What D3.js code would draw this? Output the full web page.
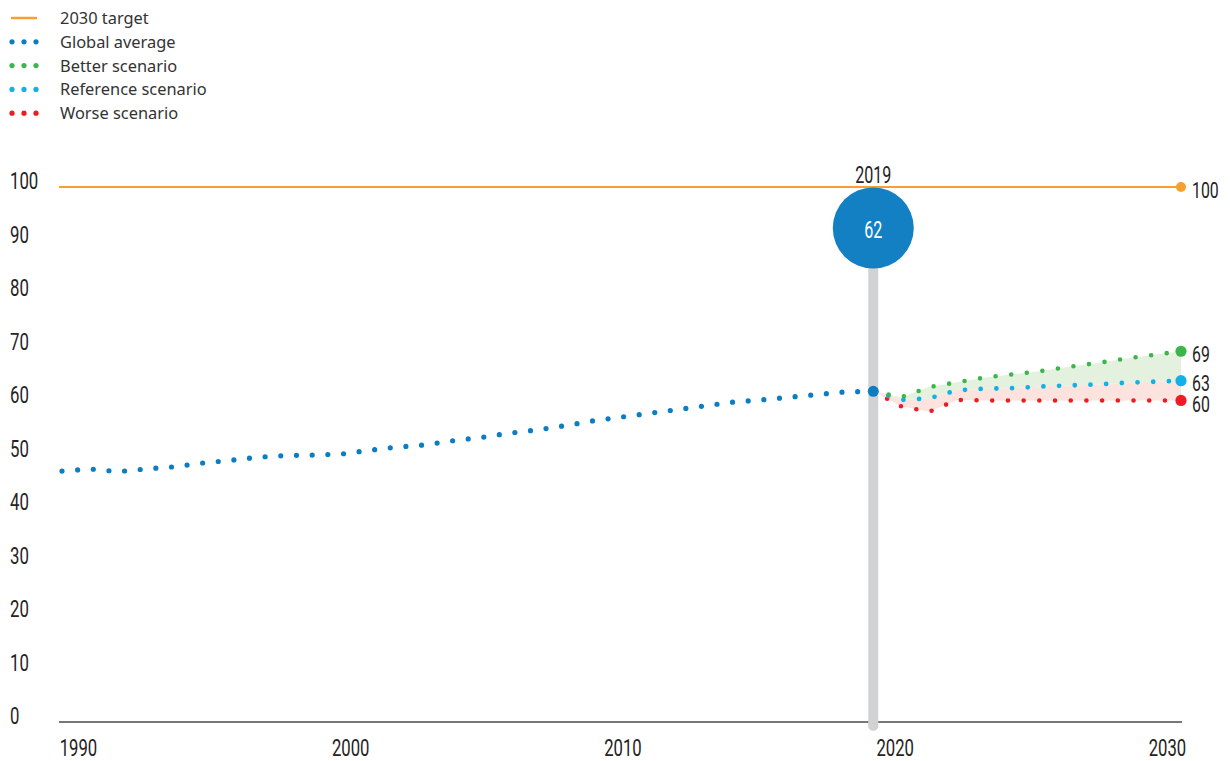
<!DOCTYPE html>
<html>
<head>
<meta charset="utf-8">
<script src="https://cdn.jsdelivr.net/npm/d3@7"></script>
<style>
  html, body { margin: 0; padding: 0; background: #fff; }
  svg { display: block; }
  .cond { font-family: Roboto, "Noto Sans", sans-serif; fill: #262324; }
  .leg { font-family: "Noto Sans", "Open Sans", sans-serif; font-size: 16.4px; fill: #333; }
</style>
</head>
<body>
<svg id="chart" width="1230" height="761"></svg>
<script>
const W = 1230, H = 761;

// global average, 1990-2019
const histYears = d3.range(1990, 2020);
const histValues = [46.9, 47.3, 46.8, 47.3, 47.7, 48.4, 48.9, 49.5, 49.8, 49.9,
                    50.1, 50.8, 51.4, 51.8, 52.6, 53.2, 54.0, 54.6, 55.4, 56.3,
                    57.0, 57.7, 58.4, 59.1, 59.8, 60.2, 60.7, 61.2, 61.7, 61.8];

// scenarios, 2019-2030
const scenYears = d3.range(2019, 2031);
const betterValues    = [61.8, 60.7, 62.6, 63.5, 64.4, 65.0, 65.6, 66.4, 67.1, 67.9, 68.6, 69.3];
const referenceValues = [61.8, 60.2, 60.5, 62.0, 62.3, 62.4, 62.7, 62.9, 63.1, 63.4, 63.6, 63.8];
const worseValues     = [61.8, 59.0, 58.0, 60.2, 60.1, 60.1, 60.1, 60.1, 60.1, 60.1, 60.1, 60.1];

const targetValue = 100;
const endLabels = ["69", "63", "60"];
const highlightYear = 2019, highlightLabel = "62";

const yTicks = [0, 10, 20, 30, 40, 50, 60, 70, 80, 90, 100];
const xTicks = [1990, 2000, 2010, 2020, 2030];

const legendItems = [
  { label: "2030 target", color: "#f6a02d", kind: "line" },
  { label: "Global average", color: "#0b7dc3", kind: "dots" },
  { label: "Better scenario", color: "#3cb54a", kind: "dots" },
  { label: "Reference scenario", color: "#12b0e6", kind: "dots" },
  { label: "Worse scenario", color: "#ec1c24", kind: "dots" }
];

const C = {
  orange: "#f6a02d", blue: "#0b7dc3", bubble: "#1380c3",
  green: "#3cb54a", cyan: "#12b0e6", red: "#ec1c24",
  bar: "#d1d2d4", greenFill: "#e4f1de", redFill: "#fce3de"
};

const svg = d3.select("#chart");

const x = d3.scaleLinear().domain([1990, 2030]).range([62, 1181]);
const y = d3.scaleLinear().domain([0, 100]).range([722, 187]);
// tick labels are spread edge to edge under the axis
const xLab = d3.scaleLinear().domain([1990, 2030]).range([78, 1167]);

// no condensed face installed, so squeeze the glyphs
function condense(sel, f) {
  sel.each(function() {
    const w = this.getComputedTextLength();
    d3.select(this).attr("textLength", (w * f).toFixed(1)).attr("lengthAdjust", "spacingAndGlyphs");
  });
}

// legend
const leg = svg.append("g").attr("transform", "translate(0,18)");
legendItems.forEach((d, i) => {
  const g = leg.append("g").attr("transform", `translate(0,${i * 23.8})`);
  if (d.kind === "line") {
    g.append("line").attr("x1", 11).attr("x2", 37).attr("y1", 0).attr("y2", 0)
      .attr("stroke", d.color).attr("stroke-width", 2.5);
  } else {
    [12, 24, 36].forEach(cx => g.append("circle").attr("cx", cx).attr("cy", 0).attr("r", 2.6).attr("fill", d.color));
  }
  g.append("text").attr("class", "leg").attr("x", 60).attr("y", 0).attr("dy", "0.36em").text(d.label);
});

// y labels
const yAxis = svg.append("g").attr("transform", "translate(10,0)")
  .call(d3.axisLeft(y).tickValues(yTicks).tickSize(0).tickFormat(d3.format("d")));
yAxis.select(".domain").remove();
yAxis.selectAll("text")
  .attr("class", "cond").attr("x", 0).attr("dy", "0.36em").attr("y", -7)
  .attr("text-anchor", "start").style("font-size", "24px")
  .call(condense, 0.7);

// baseline
svg.append("line").attr("x1", 59).attr("x2", 1182).attr("y1", y(0)).attr("y2", y(0))
  .attr("stroke", "#4a4a4a").attr("stroke-width", 1.5);

// x labels
const xAxis = svg.append("g").attr("transform", `translate(0,${y(0)})`)
  .call(d3.axisBottom(xLab).tickValues(xTicks).tickSize(0).tickFormat(d3.format("d")));
xAxis.select(".domain").remove();
xAxis.selectAll("text").attr("class", "cond").attr("y", 34).attr("dy", "0")
  .style("font-size", "23.5px")
  .call(condense, 0.71);

// target line
svg.append("line").attr("x1", 59).attr("x2", x(2030)).attr("y1", y(targetValue)).attr("y2", y(targetValue))
  .attr("stroke", C.orange).attr("stroke-width", 2);

// 2019 bar
const hx = x(highlightYear);
svg.append("line").attr("x1", hx).attr("x2", hx).attr("y1", 228).attr("y2", 726)
  .attr("stroke", C.bar).attr("stroke-width", 10).attr("stroke-linecap", "round");

// scenario bands
const scen = scenYears.map((yr, i) => ({ yr, b: betterValues[i], r: referenceValues[i], w: worseValues[i] }));
svg.append("path").datum(scen).attr("fill", C.greenFill)
  .attr("d", d3.area().x(d => x(d.yr)).y0(d => y(d.r)).y1(d => y(d.b)));
svg.append("path").datum(scen).attr("fill", C.redFill)
  .attr("d", d3.area().x(d => x(d.yr)).y0(d => y(d.w)).y1(d => y(d.r)));

// dotted lines
const line = d3.line().x(d => x(d[0])).y(d => y(d[1]));
function dotted(years, vals, color, w) {
  svg.append("path").datum(years.map((yr, i) => [yr, vals[i]]))
    .attr("d", line).attr("fill", "none").attr("stroke", color)
    .attr("stroke-width", w).attr("stroke-linecap", "round")
    .attr("stroke-dasharray", "0 15.7");
}
dotted(histYears, histValues, C.blue, 5.2);
dotted(scenYears, worseValues, C.red, 4.6);
dotted(scenYears, referenceValues, C.cyan, 4.8);
dotted(scenYears, betterValues, C.green, 4.6);

// end markers
const ends = [
  { v: targetValue, c: C.orange, t: String(targetValue), r: 5, dy: 3 },
  { v: betterValues[betterValues.length - 1], c: C.green, t: endLabels[0], r: 5.6, dy: 3 },
  { v: referenceValues[referenceValues.length - 1], c: C.cyan, t: endLabels[1], r: 5.6, dy: 2 },
  { v: worseValues[worseValues.length - 1], c: C.red, t: endLabels[2], r: 5.6, dy: 4 }
];
ends.forEach(d => {
  svg.append("circle").attr("cx", x(2030)).attr("cy", y(d.v)).attr("r", d.r).attr("fill", d.c);
  svg.append("text").attr("class", "cond").attr("x", x(2030) + 11).attr("y", y(d.v) + d.dy)
    .attr("dy", "0.36em").style("font-size", "22px").text(d.t)
    .call(condense, 0.72);
});

// 2019 point, bubble and label
svg.append("circle").attr("cx", hx).attr("cy", y(histValues[histValues.length - 1])).attr("r", 5.5).attr("fill", C.blue);
svg.append("circle").attr("cx", hx).attr("cy", 228).attr("r", 40.5).attr("fill", C.bubble);
svg.append("text").attr("class", "cond").attr("x", hx).attr("y", 230).attr("dy", "0.36em")
  .attr("text-anchor", "middle").style("font-size", "23px").style("fill", "#fff").text(highlightLabel)
  .call(condense, 0.7);
svg.append("text").attr("class", "cond").attr("x", hx).attr("y", 175).attr("dy", "0.36em")
  .attr("text-anchor", "middle").style("font-size", "23px").text(String(highlightYear))
  .call(condense, 0.7);
</script>
</body>
</html>
